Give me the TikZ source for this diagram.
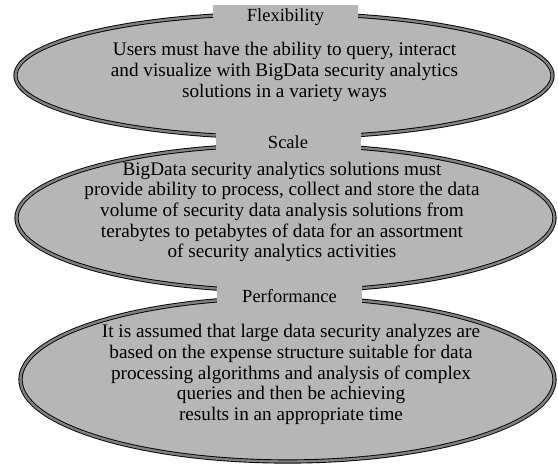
\documentclass[tikz,border=0pt]{standalone}
\usepackage{fontspec}
\setmainfont{Liberation Serif}
\definecolor{fillgray}{RGB}{182,182,182}
\definecolor{bandgray}{RGB}{128,128,128}
\begin{document}
\begin{tikzpicture}[x=1pt,y=-1pt,
  oval/.style={draw=black, line width=0.9pt, double=bandgray, double distance=2.4pt, fill=fillgray},
  titlebox/.style={fill=fillgray, inner sep=0pt, minimum width=145pt, minimum height=25pt, font=\fontsize{18.5}{20}\selectfont},
  body/.style={align=center, font=\fontsize{19.2}{20.6}\selectfont, inner sep=0pt}]
\useasboundingbox (0,0) rectangle (558,466);
% ellipses
\path[oval] (284,75.5) ellipse [x radius=268.5, y radius=62];
\path[oval] (285.5,218) ellipse [x radius=269, y radius=73];
\path[oval] (287.5,379.5) ellipse [x radius=267, y radius=82];
% title boxes
\node[titlebox] (t1) at (285.5,17) {Flexibility};
\node[titlebox] (t2) at (288,142.5) {Scale};
\node[titlebox] (t3) at (289.5,296) {Performance};
% body texts
\node[body] (b1) at (284.5,72) {Users must have the ability to query, interact\\and visualize with BigData security analytics\\solutions in a variety ways};
\node[body] (b2) at (282,212) {BigData security analytics solutions must\\provide ability to process, collect and store the data\\volume of security data analysis solutions from\\terabytes to petabytes of data for an assortment\\of security analytics activities};
\node[body] (b3) at (291,374.5) {It is assumed that large data security analyzes are\\based on the expense structure suitable for data\\processing algorithms and analysis of complex\\queries and then be achieving\\results in an appropriate time};
\end{tikzpicture}
\end{document}
